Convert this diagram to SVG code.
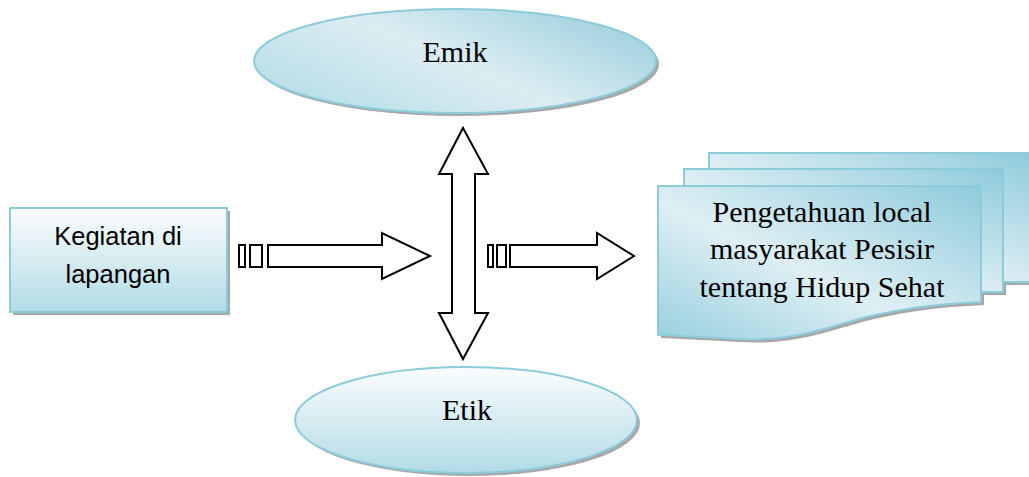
<svg xmlns="http://www.w3.org/2000/svg" width="1029" height="477" viewBox="0 0 1029 477">
<style>
.shadow{fill:#8a8a8a;opacity:0.75}
.nodeline{stroke:#8ccbd9;stroke-width:2}
.serif{font-family:"Liberation Serif","DejaVu Serif",serif;fill:#000}
.sans{font-family:"Liberation Sans","DejaVu Sans",sans-serif;fill:#000}
.arrow{fill:#fff;stroke:#000;stroke-width:2;stroke-linejoin:miter}
</style>
<defs>
<linearGradient id="gDiag" x1="1" y1="0" x2="0" y2="1">
<stop offset="0" stop-color="#8ecbdb"/>
<stop offset="0.55" stop-color="#dfeff4"/>
<stop offset="1" stop-color="#98d0de"/>
</linearGradient>
<linearGradient id="gEmik" x1="1" y1="0.2" x2="0" y2="0.8">
<stop offset="0" stop-color="#9dd0de"/>
<stop offset="0.5" stop-color="#dcedf2"/>
<stop offset="1" stop-color="#b5dde7"/>
</linearGradient>
<linearGradient id="gVert" x1="0" y1="0" x2="0" y2="1">
<stop offset="0" stop-color="#fbfdfe"/>
<stop offset="1" stop-color="#b2dbe5"/>
</linearGradient>
</defs>

<g id="connectors">
<g id="arrow-left">
<rect class="arrow" x="239" y="245" width="6" height="22"/>
<rect class="arrow" x="250" y="245" width="12" height="22"/>
<path class="arrow" d="M268,245 H382 V233 L430,256 L382,279 V267 H268 Z"/>
</g>
<g id="arrow-vertical">
<path class="arrow" d="M463,128 L488,174 H475 V313 H488 L463,359 L439,313 H452 V174 H439 Z"/>
</g>
<g id="arrow-right">
<rect class="arrow" x="488" y="245" width="5" height="22"/>
<rect class="arrow" x="497" y="245" width="9" height="22"/>
<path class="arrow" d="M510,245 H597 V233 L634,256 L597,279 V267 H510 Z"/>
</g>
</g>

<g id="node-emik">
<ellipse class="shadow" cx="458" cy="64" rx="201" ry="52"/>
<ellipse class="nodeline" cx="455" cy="61" rx="201" ry="52" fill="url(#gEmik)"/>
<text class="serif" x="455" y="62" font-size="30" text-anchor="middle">Emik</text>
</g>

<g id="node-etik">
<ellipse class="shadow" cx="469" cy="423" rx="171" ry="53"/>
<ellipse class="nodeline" cx="466" cy="420" rx="171" ry="53" fill="url(#gVert)"/>
<text class="serif" x="467" y="420" font-size="30" text-anchor="middle">Etik</text>
</g>

<g id="node-kegiatan">
<rect class="shadow" x="13" y="211" width="217" height="104"/>
<rect class="nodeline" x="10" y="208" width="217" height="104" fill="url(#gVert)"/>
<text class="sans" x="118" y="245" font-size="25.5" text-anchor="middle">Kegiatan di</text>
<text class="sans" x="118" y="283" font-size="25.5" text-anchor="middle">lapangan</text>
</g>

<g id="node-pengetahuan">
<path class="shadow" d="M712,156 H1032 V285 H1006 V295 H984 V305 C940,307 900,312 862,322 C820,334 790,345 740,342 C715,341 690,339 661,338 V189 H687 V172 H712 Z"/>
<path class="nodeline" d="M709,153 H1032 V282 H1003 V169 H709 Z" fill="url(#gDiag)"/>
<path class="nodeline" d="M684,169 H1003 V292 H981 V186 H684 Z" fill="url(#gDiag)"/>
<path class="nodeline" d="M658,186 H981 V302 C937,304 897,309 859,319 C817,331 787,342 737,339 C712,338 687,336 658,335 Z" fill="url(#gDiag)"/>
<text class="serif" x="822" y="222" font-size="30" text-anchor="middle">Pengetahuan local</text>
<text class="serif" x="822" y="259" font-size="30" text-anchor="middle">masyarakat Pesisir</text>
<text class="serif" x="822" y="297" font-size="30" text-anchor="middle">tentang Hidup Sehat</text>
</g>
</svg>
